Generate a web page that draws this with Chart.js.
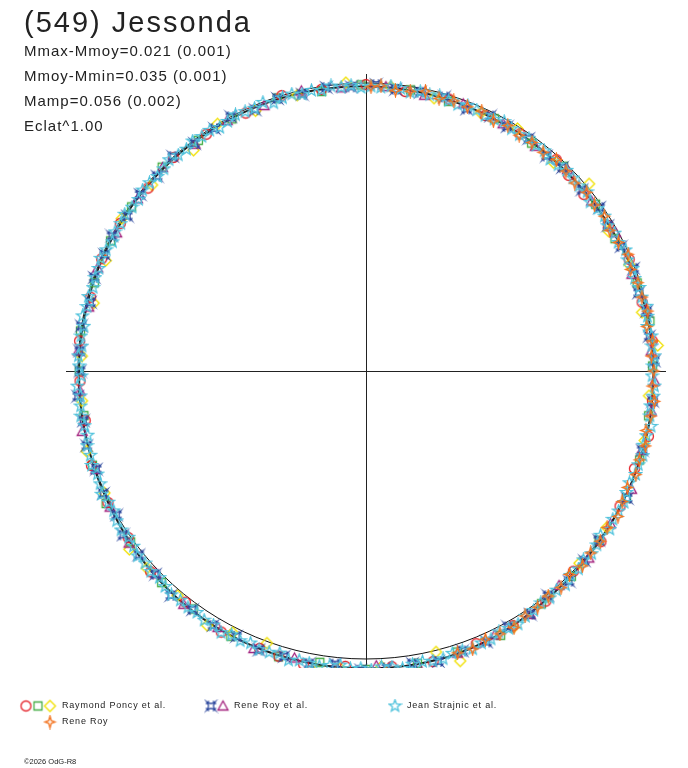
<!DOCTYPE html>
<html><head><meta charset="utf-8">
<script src="https://cdn.jsdelivr.net/npm/chart.js@4.4.1/dist/chart.umd.min.js"></script>
<style>
html,body{margin:0;padding:0;background:#fff;}
#wrap{position:relative;width:688px;height:768px;overflow:hidden;background:#fff;}
#c{position:absolute;left:0;top:0;width:688px;height:768px;}
.t{position:absolute;font-family:"Liberation Sans",Arial,sans-serif;color:#222;white-space:nowrap;line-height:1;}
</style></head><body>
<div id="wrap">
<canvas id="c" width="688" height="768"></canvas>
<div class="t" style="left:24px;top:8px;font-size:29px;letter-spacing:2px">(549) Jessonda</div>
<div class="t" id="s1" style="left:24px;top:43px;font-size:15px;letter-spacing:1px"></div>
<div class="t" id="s2" style="left:24px;top:68px;font-size:15px;letter-spacing:1px"></div>
<div class="t" id="s3" style="left:24px;top:93px;font-size:15px;letter-spacing:1px"></div>
<div class="t" id="s4" style="left:24px;top:118px;font-size:15px;letter-spacing:1px"></div>
<div class="t" id="l1" style="left:62px;top:701px;font-size:9px;letter-spacing:0.8px"></div>
<div class="t" id="l2" style="left:234px;top:701px;font-size:9px;letter-spacing:0.8px"></div>
<div class="t" id="l3" style="left:407px;top:701px;font-size:9px;letter-spacing:0.8px"></div>
<div class="t" id="l4" style="left:62px;top:717px;font-size:9px;letter-spacing:0.8px"></div>
<div class="t" style="left:24px;top:758px;font-size:7.5px">©2026 OdG-R8</div>
</div>
<script>
// ---- texts ----
const statLines = ["Mmax-Mmoy=0.021 (0.001)", "Mmoy-Mmin=0.035 (0.001)", "Mamp=0.056 (0.002)", "Eclat^1.00"];
const legendNames = ["Raymond Poncy et al.", "Rene Roy et al.", "Jean Strajnic et al.", "Rene Roy"];
const eclatPower = 1.00;
const refRadius = 1.0;          // mean brightness circle
const axisExtentX = 1.0417;     // axis half-lengths, in brightness units
const axisExtentY = 1.0313;

// ---- fitted light curve (phase deg, mmag rel. to mean) ----
const fitPhase = [0,10,20,30,40,50,60,70,80,90,100,110,120,130,140,150,160,170,180,190,200,210,220,230,240,250,260,270,280,290,300,310,320,330,340,350,360];
const fitMag   = [1,5,11,17,20,21,20,18,15,12,10,8,7,6,6,6,5,5,4,2,-2,-8,-18,-27,-33,-35,-35,-35,-35,-32,-22,-11,-5,-2,0,0,1];

// ---- Jean Strajnic et al. (cyan stars) ----
const strajnicPhase = [1,3,5,7,9,11,13,15,17,19,21,23,25,27,29,31,33,35,37,39,41,43,45,47,49,51,53,55,57,59,61,63,65,67,69,71,73,75,77,79,81,83,85,87,89,91,93,95,97,99,101,103,105,107,109,111,113,115,117,119,121,123,125,127,129,131,133,135,137,139,141,143,145,147,149,151,153,155,157,159,161,163,165,167,169,171,173,175,177,179,181,183,185,187,189,191,193,195,197,199,201,203,205,207,209,211,213,215,217,219,221,223,225,227,229,231,233,235,237,239,241,243,245,247,249,251,253,255,257,259,261,263,265,267,269,271,273,275,277,279,281,283,285,287,289,291,293,295,297,299,301,303,305,307,309,311,313,315,317,319,321,323,325,327,329,331,333,335,337,339,341,343,345,347,349,351,353,355,357,359];
const strajnicMag = [4,-3,4,2,12,5,1,10,9,15,9,14,6,19,14,23,14,19,28,13,22,19,16,24,29,18,21,15,24,21,11,21,24,17,14,24,20,12,17,13,22,13,8,15,12,17,8,12,3,14,8,15,5,9,17,1,10,7,2,10,15,4,7,0,10,7,-3,8,11,4,2,12,9,1,7,4,13,5,-1,7,5,10,2,6,-3,9,3,11,0,4,13,-4,5,2,-3,5,9,-3,-1,-8,1,-3,-14,-4,-2,-11,-15,-7,-12,-22,-18,-23,-16,-25,-32,-26,-29,-25,-34,-31,-41,-30,-36,-28,-39,-35,-26,-42,-33,-36,-40,-32,-27,-38,-35,-41,-31,-34,-44,-33,-30,-36,-37,-27,-29,-36,-28,-29,-18,-24,-27,-17,-16,-9,-15,-9,-17,-4,-9,0,-9,-4,6,-10,0,-3,-6,2,7,-3,0,-6,4,1,-9,2,5,-2,-3,7];

// ---- Rene Roy et al. (blue) ----
const royAlBluePhase = [2,7,12,16,21,26,31,35,40,46,50,55,60,64,69,74,79,84,88,93,98,103,108,113,118,122,127,132,137,142,147,152,156,161,166,171,176,180,185,190,195,200,205,210,214,219,224,229,234,239,244,249,254,259,264,269,274,279,284,289,294,299,304,309,314,319,324,334,344,354];
const royAlBlueMag = [-2,10,4,17,5,16,22,10,23,20,28,16,22,16,28,11,15,18,5,13,6,15,6,16,0,8,11,-3,9,5,13,1,7,2,15,-1,4,8,-5,4,-4,4,-7,0,-19,-16,-17,-35,-26,-33,-27,-40,-33,-38,-25,-41,-35,-31,-42,-30,-32,-17,-20,-4,-16,-5,1,-10,3,-1];

// ---- Rene Roy et al. (magenta triangles) ----
const royAlTriPhase = [4,12,20,29,37,45,53,61,70,78,86,95,103,111,119,127,135,143,151,159,167,176,184,192,200,208,216,224,232,240,248,256,264,272,280,288,296,304,312,320,328,336,344,352,358];
const royAlTriMag = [8,3,19,10,21,12,25,20,14,23,11,14,2,14,6,15,1,7,11,2,13,-2,5,-8,2,-7,-18,-15,-30,-30,-42,-29,-36,-26,-40,-32,-21,-21,-2,-11,-1,-10,4,0,-3];

// ---- Raymond Poncy et al. (red circles) ----
const poncyCirPhase = [6,14,23,31,39,48,57,65,73,82,90,99,107,115,124,132,140,149,157,165,174,182,190,199,207,215,223,232,241,249,258,266,275,283,292,300,308,316,324,332,340,347,354,44,253];
const poncyCirMag = [1,13,8,20,29,14,20,23,14,22,6,11,0,13,9,2,13,5,3,11,0,7,11,-9,-6,-9,-24,-20,-39,-34,-44,-30,-33,-38,-23,-23,-15,-1,-9,1,9,-7,0,24,-38];

// ---- Raymond Poncy et al. (green squares) ----
const poncySqPhase = [1,10,18,28,36,46,54,63,73,81,91,99,108,118,126,135,145,153,162,172,180,189,199,207,216,226,234,243,253,261,270,280,288,297,307,315,324,334,342,351];
const poncySqMag = [5,-1,11,23,16,13,24,19,23,13,7,19,4,9,11,-1,7,5,9,-1,5,9,-5,-14,-11,-23,-23,-36,-40,-26,-39,-33,-28,-32,-13,-9,0,-7,1,7];

// ---- Raymond Poncy et al. (yellow diamonds) ----
const poncyDiaPhase = [5,12,22,30,40,48,58,66,76,85,94,104,113,121,128,139,148,157,166,177,186,196,205,217,222,230,238,243,250,260,265,273,284,288,300,309,318,327,346,355];
const poncyDiaMag = [-18,22,15,31,-12,29,8,21,26,10,-4,14,20,-1,30,17,0,20,28,13,9,-10,-2,-31,-25,-19,-44,-21,-6,-62,-39,-30,-6,-62,-28,-8,3,3,3,15];

// ---- Rene Roy (orange 4-point stars) ----
const royPhase = [288,291,294,297,300,303,306,309,312,315,318,321,324,327,330,333,336,339,342,345,348,351,354,357,0,3,6,9,12,15,18,21,24,27,30,33,36,39,42,45,48,51,54,57,60,63,66,69,72,75,78,81,84,87,89];
const royMag = [-31,-36,-21,-26,-30,-15,-15,-6,-13,1,-12,-4,-6,2,-11,2,7,-4,2,-5,7,-1,-8,5,1,8,0,14,0,9,8,17,4,18,25,14,21,15,27,20,13,25,21,26,17,28,13,19,15,22,7,18,22,9,14];

// ---- marker images ----
function mk(draw, color) {
  const c = document.createElement('canvas'); c.width = 15; c.height = 15;
  const g = c.getContext('2d'); g.strokeStyle = color; g.lineWidth = 1.3; g.lineJoin = 'miter'; g.beginPath(); draw(g); g.stroke();
  return c;
}
const M = {
  circle: mk(g => { g.arc(7.5, 7.5, 5, 0, Math.PI * 2); }, '#e4222a'),
  square: mk(g => { g.rect(3.5, 3.5, 8, 8); }, '#45ad45'),
  diamond: mk(g => { g.moveTo(7.5, 2); g.lineTo(13, 7.5); g.lineTo(7.5, 13); g.lineTo(2, 7.5); g.closePath(); }, '#f0e000'),
  triangle: mk(g => { g.moveTo(7.5, 2.5); g.lineTo(12.5, 11.5); g.lineTo(2.5, 11.5); g.closePath(); }, '#a21f7c'),
  astroid: mk(g => {
    g.moveTo(3.5, 3.5); g.quadraticCurveTo(7.5, 6.5, 11.5, 3.5); g.quadraticCurveTo(8.5, 7.5, 11.5, 11.5);
    g.quadraticCurveTo(7.5, 8.5, 3.5, 11.5); g.quadraticCurveTo(6.5, 7.5, 3.5, 3.5); g.closePath();
    g.moveTo(2.5, 5.5); g.lineTo(5.5, 2.5); g.moveTo(9.5, 2.5); g.lineTo(12.5, 5.5);
    g.moveTo(2.5, 9.5); g.lineTo(5.5, 12.5); g.moveTo(9.5, 12.5); g.lineTo(12.5, 9.5);
  }, '#2f4a9e'),
  star5: mk(g => {
    for (let i = 0; i < 10; i++) {
      const a = -Math.PI / 2 + i * Math.PI / 5, rr = (i % 2) ? 2.6 : 6.2;
      const px = 7.5 + rr * Math.cos(a), py = 7.5 + rr * Math.sin(a);
      if (i) g.lineTo(px, py); else g.moveTo(px, py);
    }
    g.closePath();
  }, '#4fc2dc'),
  star4: mk(g => {
    g.moveTo(7.5, 1.5); g.lineTo(8.8, 6.2); g.lineTo(12.5, 7.5); g.lineTo(8.8, 8.8);
    g.lineTo(7.5, 13.5); g.lineTo(6.2, 8.8); g.lineTo(2.5, 7.5); g.lineTo(6.2, 6.2); g.closePath();
  }, '#f37421')
};

// polar transform: angle = phase, radius = brightness^eclatPower
function toXY(ph, mm) {
  const r = Math.pow(Math.pow(10, -0.4 * mm / 1000), eclatPower);
  const a = ph * Math.PI / 180;
  return { x: r * Math.cos(a), y: r * Math.sin(a) };
}
function pts(ph, mm) { return ph.map((p, i) => toXY(p, mm[i])); }

function scatterSet(label, ph, mm, img) {
  return { type: 'scatter', label, data: pts(ph, mm), pointStyle: img, pointRadius: 6, pointHoverRadius: 6, showLine: false };
}

const frame = {
  id: 'frame',
  beforeDatasetsDraw(chart) {
    const { ctx, chartArea: ca, scales: { x, y } } = chart;
    const cx = x.getPixelForValue(0), cy = y.getPixelForValue(0);
    ctx.save();
    ctx.strokeStyle = '#222'; ctx.lineWidth = 1;
    ctx.beginPath();
    ctx.moveTo(ca.left, Math.round(cy) + 0.5); ctx.lineTo(ca.right, Math.round(cy) + 0.5);
    ctx.moveTo(Math.round(cx) + 0.5, ca.top); ctx.lineTo(Math.round(cx) + 0.5, ca.bottom);
    ctx.stroke();
    const rp = x.getPixelForValue(refRadius) - cx;
    ctx.beginPath(); ctx.arc(cx, cy, rp, 0, Math.PI * 2); ctx.strokeStyle = '#111'; ctx.stroke();
    ctx.restore();
  },
  afterDraw(chart) {
    const ctx = chart.ctx;
    const items = [[M.circle, 26, 706], [M.square, 38, 706], [M.diamond, 50, 706],
                   [M.astroid, 211, 706], [M.triangle, 223, 706], [M.star5, 395, 706], [M.star4, 50, 722]];
    items.forEach(([im, px, py]) => ctx.drawImage(im, px - 7.5, py - 7.5));
  }
};

new Chart(document.getElementById('c'), {
  data: {
    datasets: [
      scatterSet(legendNames[3], royPhase, royMag, M.star4),
      scatterSet(legendNames[2], strajnicPhase, strajnicMag, M.star5),
      scatterSet(legendNames[1], royAlBluePhase, royAlBlueMag, M.astroid),
      scatterSet(legendNames[1], royAlTriPhase, royAlTriMag, M.triangle),
      scatterSet(legendNames[0], poncyCirPhase, poncyCirMag, M.circle),
      scatterSet(legendNames[0], poncySqPhase, poncySqMag, M.square),
      scatterSet(legendNames[0], poncyDiaPhase, poncyDiaMag, M.diamond),
      { type: 'line', label: 'fit', data: pts(fitPhase, fitMag), borderColor: '#1c1c1c', borderWidth: 2, pointRadius: 0, tension: 0.4, fill: false }
    ]
  },
  options: {
    responsive: false, animation: false, events: [],
    layout: { padding: { left: 66, right: 22, top: 74, bottom: 100 } },
    scales: {
      x: { type: 'linear', min: -axisExtentX, max: axisExtentX, display: false },
      y: { type: 'linear', min: -axisExtentY, max: axisExtentY, display: false }
    },
    plugins: { legend: { display: false }, tooltip: { enabled: false } }
  },
  plugins: [frame]
});

statLines.forEach((s, i) => document.getElementById('s' + (i + 1)).textContent = s);
legendNames.forEach((s, i) => document.getElementById('l' + (i + 1)).textContent = s);
</script>
</body></html>
